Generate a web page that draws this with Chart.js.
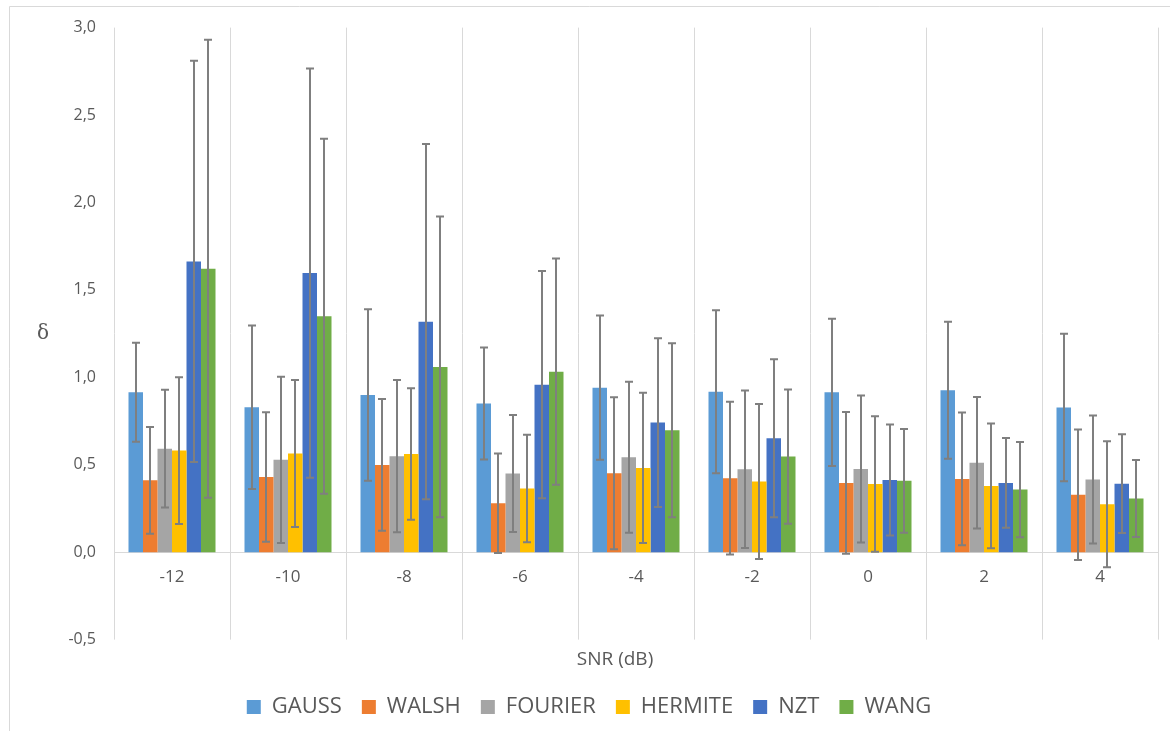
<!DOCTYPE html>
<html lang="en">
<head>
  <meta charset="UTF-8" />
  <title>SNR vs delta</title>
  <script src="https://cdn.jsdelivr.net/npm/chart.js"></script>
  <style>
    html, body { margin: 0; padding: 0; background: #fff; }
    canvas { display: block; }
  </style>
</head>
<body>
  <canvas id="snrChart" width="1170" height="731"></canvas>

  <script>
    // values
    const categories = ['-12', '-10', '-8', '-6', '-4', '-2', '0', '2', '4'];

    const gauss      = [0.915, 0.829, 0.899, 0.850, 0.941, 0.918, 0.914, 0.926, 0.827];
    const gaussErr   = [0.283, 0.468, 0.490, 0.320, 0.412, 0.466, 0.421, 0.392, 0.422];
    const walsh      = [0.411, 0.430, 0.499, 0.280, 0.451, 0.423, 0.396, 0.419, 0.328];
    const walshErr   = [0.305, 0.370, 0.377, 0.285, 0.435, 0.437, 0.405, 0.380, 0.373];
    const fourier    = [0.592, 0.528, 0.549, 0.450, 0.543, 0.474, 0.476, 0.512, 0.415];
    const fourierErr = [0.337, 0.475, 0.435, 0.335, 0.432, 0.450, 0.420, 0.376, 0.366];
    const hermite    = [0.581, 0.564, 0.562, 0.364, 0.482, 0.404, 0.390, 0.379, 0.274];
    const hermiteErr = [0.420, 0.420, 0.376, 0.307, 0.430, 0.443, 0.387, 0.357, 0.360];
    const nzt        = [1.663, 1.596, 1.318, 0.958, 0.741, 0.651, 0.413, 0.396, 0.392];
    const nztErr     = [1.147, 1.170, 1.016, 0.650, 0.483, 0.452, 0.317, 0.257, 0.283];
    const wang       = [1.621, 1.349, 1.059, 1.032, 0.697, 0.547, 0.408, 0.358, 0.307];
    const wangErr    = [1.310, 1.015, 0.860, 0.647, 0.498, 0.384, 0.297, 0.272, 0.220];

    const yTicks = [-0.5, 0, 0.5, 1.0, 1.5, 2.0, 2.5, 3.0];

    const textColor = '#595959';
    const lineColor = '#d9d9d9';

    function series(label, data, err, color) {
      return {
        label: label,
        data: data,
        err: err,
        backgroundColor: color,
        borderWidth: 0,
        categoryPercentage: 0.75,
        barPercentage: 1.0
      };
    }

    // whiskers: value +/- err, drawn through the y scale
    const errorBars = {
      id: 'errorBars',
      afterDatasetsDraw(chart) {
        const ctx = chart.ctx;
        const y = chart.scales.y;
        ctx.save();
        ctx.strokeStyle = '#7f7f7f';
        ctx.lineWidth = 2;
        chart.data.datasets.forEach((ds, i) => {
          const meta = chart.getDatasetMeta(i);
          meta.data.forEach((bar, j) => {
            const v = ds.data[j], e = ds.err[j];
            const x = Math.round(bar.x);
            const top = y.getPixelForValue(v + e);
            const bot = y.getPixelForValue(v - e);
            ctx.beginPath();
            ctx.moveTo(x, top);
            ctx.lineTo(x, bot);
            ctx.moveTo(x - 4, top);
            ctx.lineTo(x + 4, top);
            ctx.moveTo(x - 4, bot);
            ctx.lineTo(x + 4, bot);
            ctx.stroke();
          });
        });
        ctx.restore();
      }
    };

    // frame of the chart, upright delta label and the x title
    const decor = {
      id: 'decor',
      beforeDraw(chart) {
        const ctx = chart.ctx;
        ctx.save();
        ctx.fillStyle = '#fff';
        ctx.fillRect(0, 0, chart.width, chart.height);
        ctx.strokeStyle = lineColor;
        ctx.lineWidth = 1;
        ctx.beginPath();
        ctx.moveTo(9.5, chart.height);
        ctx.lineTo(9.5, 6.5);
        ctx.lineTo(chart.width, 6.5);
        ctx.stroke();
        ctx.restore();
      },
      afterDraw(chart) {
        const ctx = chart.ctx;
        ctx.save();
        ctx.fillStyle = textColor;
        ctx.textAlign = 'center';
        ctx.textBaseline = 'middle';
        ctx.font = '20px "DejaVu Serif"';
        ctx.fillText('δ', 43, 334);
        ctx.font = '19px "Open Sans"';
        ctx.fillText('SNR (dB)', 615, 660);
        ctx.restore();
      }
    };

    const ctx = document.getElementById('snrChart').getContext('2d');

    new Chart(ctx, {
      type: 'bar',
      data: {
        labels: categories,
        datasets: [
          series('GAUSS', gauss, gaussErr, '#5B9BD5'),
          series('WALSH', walsh, walshErr, '#ED7D31'),
          series('FOURIER', fourier, fourierErr, '#A5A5A5'),
          series('HERMITE', hermite, hermiteErr, '#FFC000'),
          series('NZT', nzt, nztErr, '#4472C4'),
          series('WANG', wang, wangErr, '#70AD47')
        ]
      },
      options: {
        responsive: false,
        animation: false,
        layout: {
          padding: { left: 20, right: 12, top: 27, bottom: 3 }
        },
        plugins: {
          tooltip: { enabled: false },
          legend: {
            position: 'bottom',
            labels: {
              color: textColor,
              font: { family: 'Open Sans', size: 22 },
              boxWidth: 14,
              boxHeight: 14,
              padding: 20
            }
          }
        },
        scales: {
          x: {
            position: { y: 0 },
            grid: {
              color: lineColor,
              drawTicks: false,
              offset: true
            },
            border: { color: lineColor },
            ticks: {
              color: textColor,
              font: { family: 'Open Sans', size: 17 },
              padding: 15
            }
          },
          // empty bottom axis that only keeps room for the x title
          x2: {
            type: 'category',
            labels: categories,
            position: 'bottom',
            grid: { display: false, drawTicks: false },
            border: { display: false },
            ticks: { display: false },
            title: {
              display: true,
              text: ' ',
              font: { family: 'Open Sans', size: 17 },
              padding: { top: 10, bottom: 6 }
            }
          },
          y: {
            min: -0.5,
            max: 3.0,
            afterBuildTicks(scale) {
              scale.ticks = yTicks.map(v => ({ value: v }));
            },
            afterFit(scale) {
              scale.width = 94;
            },
            grid: { display: false, drawTicks: false },
            border: { display: false },
            ticks: {
              color: textColor,
              font: { family: 'Open Sans', size: 16 },
              padding: 18,
              callback: v => v.toFixed(1).replace('.', ',')
            }
          }
        }
      },
      plugins: [decor, errorBars]
    });
  </script>
</body>
</html>
